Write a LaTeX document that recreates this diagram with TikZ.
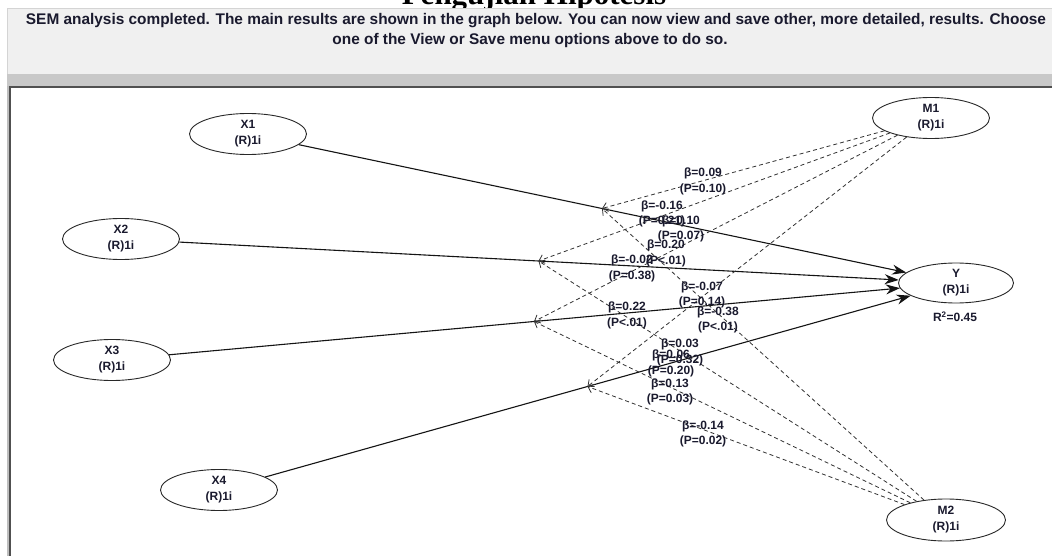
\documentclass[tikz,border=0pt]{standalone}
\usepackage{fontspec}
\setmainfont{Liberation Sans}
\newfontfamily\titlefont{Liberation Serif}
\usetikzlibrary{shapes.geometric,arrows.meta,calc}
\definecolor{txt}{RGB}{26,26,46}
\definecolor{lvline}{RGB}{40,40,40}
\definecolor{pathc}{RGB}{20,20,20}
\definecolor{modc}{RGB}{50,50,50}
\definecolor{bannerbg}{RGB}{240,240,240}
\definecolor{bannerbd}{RGB}{212,212,212}
\definecolor{bandc}{RGB}{200,200,200}
\definecolor{panelbd}{RGB}{80,80,80}
\definecolor{panelsh}{RGB}{190,190,190}
\tikzset{
  lv/.style={ellipse, draw=lvline, line width=0.9pt, minimum width=117pt, minimum height=41pt,
    inner sep=0pt, align=center, text=txt, font=\bfseries\fontsize{12}{16}\selectfont},
  pathline/.style={draw=pathc, line width=1.1pt, -{Stealth[length=14pt,width=10pt]}},
  modline/.style={draw=modc, line width=0.8pt, dash pattern=on 4pt off 3pt,
    -{Straight Barb[length=5pt,width=9pt]}},
  lab/.style={text=txt, align=center, inner sep=0pt, font=\bfseries\fontsize{12}{15.5}\selectfont},
  bantext/.style={text=txt, inner sep=0pt, anchor=base, font=\bfseries\fontsize{15.4}{19}\selectfont}
}
\begin{document}
\begin{tikzpicture}[x=1pt,y=-1pt]
\useasboundingbox (0,0) rectangle (1052,556);
\clip (0,0) rectangle (1052,556);
\fill[white] (0,0) rectangle (1052,556);
% title (cut off at top)
\node[inner sep=0pt, anchor=base, font=\titlefont\bfseries\fontsize{31}{31}\selectfont] (title) at (534,5) {Pengujian Hipotesis};
% banner
\fill[bannerbg] (7,8) rectangle (1052,74);
\draw[bannerbd, line width=1pt] (7.5,74) -- (7.5,8.5) -- (1052,8.5);
\fill[bandc] (7,74) rectangle (1052,86);
\node[bantext] (b1) at (536,25) {SEM analysis completed. The main results are shown in the graph below. You can now view and save other, more detailed, results. Choose};
\node[bantext] (b2) at (530,45) {one of the View or Save menu options above to do so.};
% panel
\fill[panelsh] (7,86) rectangle (9,556);
\fill[white] (9,86) rectangle (1052,556);
\draw[panelbd, line width=1.6pt] (10,556) -- (10,87) -- (1052,87);
% latent variables
\node[lv] (X1) at (248,134) {X1\\(R)1i};
\node[lv] (X2) at (121,239) {X2\\(R)1i};
\node[lv] (X3) at (112,360) {X3\\(R)1i};
\node[lv] (X4) at (219,490) {X4\\(R)1i};
\node[lv] (M1) at (931,118) {M1\\(R)1i};
\node[lv, minimum width=115pt, minimum height=40pt] (Y) at (956,283) {Y\\(R)1i};
\node[lv, minimum width=119pt, minimum height=42pt] (M2) at (946,520) {M2\\(R)1i};
\node[lab] (r2) at (955,317) {R\textsuperscript{2}=0.45};
% moderation points
\coordinate (m1) at ($(X1)!0.5!(Y)$);
\coordinate (m2) at ($(X2)!0.5!(Y)$);
\coordinate (m3) at ($(X3)!0.5!(Y)$);
\coordinate (m4) at ($(X4)!0.5!(Y)$);
% direct paths
\draw[pathline] (X1) -- (Y);
\draw[pathline] (X2) -- (Y);
\draw[pathline] (X3) -- (Y);
\draw[pathline] (X4) -- (Y);
% moderating paths
\foreach \t in {m1,m2,m3,m4} {
  \draw[modline] (M1) -- (\t);
  \draw[modline] (M2) -- (\t);
}
% labels
\node[lab] (l1) at (703,181.5) {β=0.09\\(P=0.10)};
\node[lab] (l2) at (662,214) {β=-0.16\\(P=0.21)};
\node[lab] (l3) at (681,229) {β=0.10\\(P=0.07)};
\node[lab] (l4) at (666,253.5) {β=0.20\\(P<.01)};
\node[lab] (l5) at (632,268.5) {β=-0.02\\(P=0.38)};
\node[lab] (l6) at (702,295) {β=-0.07\\(P=0.14)};
\node[lab] (l7) at (627,315.5) {β=0.22\\(P<.01)};
\node[lab] (l8) at (718,320) {β=-0.38\\(P<.01)};
\node[lab] (l9) at (680,352.5) {β=0.03\\(P=0.32)};
\node[lab] (l10) at (671,363.5) {β=0.06\\(P=0.20)};
\node[lab] (l11) at (670,392) {β=0.13\\(P=0.03)};
\node[lab] (l12) at (703,434) {β=-0.14\\(P=0.02)};
\end{tikzpicture}
\end{document}
